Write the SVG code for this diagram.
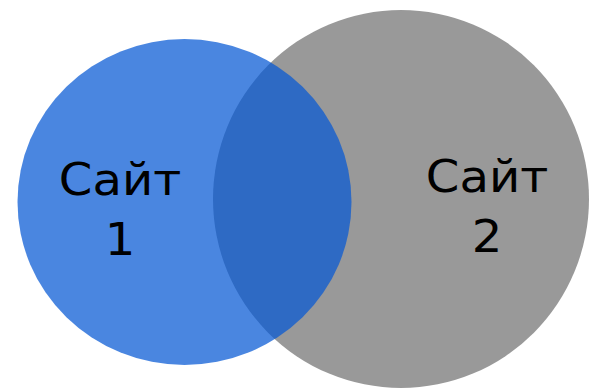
<svg xmlns="http://www.w3.org/2000/svg" width="592" height="388" viewBox="0 0 592 388">
<style>
.lbl{font-family:"DejaVu Sans","Noto Sans",sans-serif;font-size:45px;fill:#000;text-anchor:middle}
</style>
<rect width="592" height="388" fill="#fff"/>
<g id="site2">
<ellipse cx="401" cy="199" rx="188" ry="189" fill="#999999"/>
<text class="lbl" transform="translate(487,192) scale(1.07,1)">Сайт</text>
<text class="lbl" transform="translate(487,252) scale(1.07,1)">2</text>
</g>
<g id="site1">
<ellipse cx="184.5" cy="202" rx="167" ry="163" fill="#0457d4" fill-opacity="0.72"/>
<text class="lbl" transform="translate(120,195) scale(1.07,1)">Сайт</text>
<text class="lbl" transform="translate(120,255) scale(1.07,1)">1</text>
</g>
<g id="connectors"/>
</svg>
